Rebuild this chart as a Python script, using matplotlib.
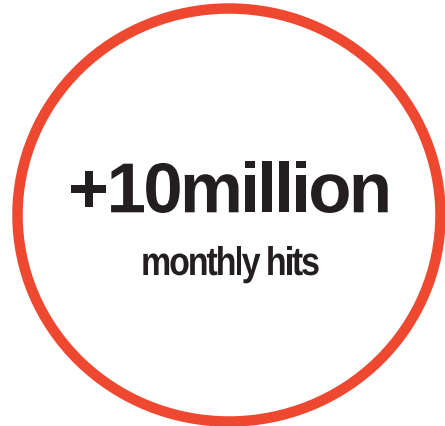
import matplotlib
matplotlib.use('Agg')
import matplotlib.pyplot as plt
from matplotlib.patches import Ellipse
from matplotlib import font_manager
from matplotlib.ft2font import FT2Font
from matplotlib.patheffects import AbstractPathEffect
from matplotlib.transforms import Affine2D

# размер картинки в пикселях
W, H = 445, 427
DPI = 100

# тексты
big_text = '+10million'
small_text = 'monthly hits'

ring_color = '#ef4831'
text_color = '#231f20'

font_prop = font_manager.FontProperties(family='Liberation Sans', weight='bold')
font_path = font_manager.findfont(font_prop)


class HScale(AbstractPathEffect):
    # сжатие глифа по горизонтали относительно его начала
    def __init__(self, sx):
        super().__init__()
        self.sx = sx

    def draw_path(self, renderer, gc, tpath, affine, rgbFace=None):
        x0 = affine.get_matrix()[0, 2]
        t = affine + Affine2D().translate(-x0, 0).scale(self.sx, 1).translate(x0, 0)
        renderer.draw_path(gc, tpath, t, rgbFace)


def advances(s, size_px):
    # ширины символов (advance) в пикселях
    ft = FT2Font(font_path)
    ft.set_size(size_px * 72 / DPI, DPI)
    res = []
    for c in s:
        g = ft.load_char(ord(c))
        res.append(g.linearHoriAdvance / 65536)
    return res


def tracked_text(ax, s, cx, baseline, size_px, target_w, sx=1.0):
    # текст с уменьшенным межбуквенным интервалом, центрированный по cx
    adv = [a * sx for a in advances(s, size_px)]
    track = (target_w - sum(adv)) / (len(s) - 1)
    total = sum(adv) + track * (len(s) - 1)
    x = cx - total / 2
    for c, a in zip(s, adv):
        ax.text(x, baseline, c, fontproperties=font_prop,
                fontsize=size_px * 72 / DPI, color=text_color,
                ha='left', va='baseline', path_effects=[HScale(sx)])
        x += a + track


fig = plt.figure(figsize=(W / DPI, H / DPI), dpi=DPI)
ax = fig.add_axes([0, 0, 1, 1])
ax.set_xlim(0, W)
ax.set_ylim(H, 0)
ax.axis('off')

ring = Ellipse((229, 216), 423, 413, fill=False, edgecolor=ring_color,
               linewidth=10.5 * 72 / DPI)
ax.add_patch(ring)

tracked_text(ax, big_text, 230, 213.3, 70.7, 324)
tracked_text(ax, small_text, 230.5, 276, 40, 179, sx=0.85)

fig.savefig('out.png', dpi=DPI)
